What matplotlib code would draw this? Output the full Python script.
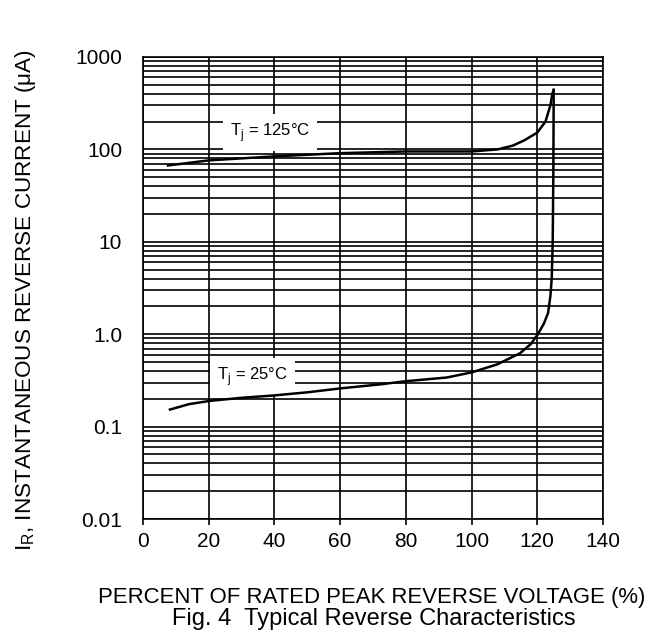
import matplotlib
matplotlib.use("Agg")
import matplotlib.pyplot as plt
from matplotlib.ticker import LogLocator, NullFormatter, FixedLocator

plt.rcParams["font.family"] = ["Liberation Sans", "DejaVu Sans"]

# curve: Tj = 125 C
x_125 = [7.6, 20, 40, 60, 80, 100, 108, 112.6, 116, 120, 122.5, 124, 124.6, 125]
y_125 = [67, 76, 84, 91, 95, 95, 100, 110, 125, 152, 200, 300, 400, 440]

# curve: Tj = 25 C
x_25 = [8.2, 14, 20.4, 30, 39.6, 50, 60, 72, 80, 92.5, 100, 107.7, 114.7,
        118, 120.2, 122, 123.3, 124, 124.4, 124.7, 124.9, 125]
y_25 = [0.153, 0.175, 0.19, 0.205, 0.217, 0.235, 0.259, 0.286, 0.31, 0.34,
        0.386, 0.47, 0.62, 0.78, 1.0, 1.3, 1.7, 2.6, 4.0, 10, 60, 440]

x_ticks = [0, 20, 40, 60, 80, 100, 120, 140]
y_ticks = [0.01, 0.1, 1, 10, 100, 1000]
y_labels = ["0.01", "0.1", "1.0", "10", "100", "1000"]

fig = plt.figure(figsize=(6.6, 6.38), dpi=100)
ax = fig.add_axes([0.2167, 0.1865, 0.6969, 0.7242])

ax.set_yscale("log")
ax.set_xlim(0, 140)
ax.set_ylim(0.01, 1000)

ax.xaxis.set_major_locator(FixedLocator(x_ticks))
ax.yaxis.set_major_locator(FixedLocator(y_ticks))
ax.set_yticklabels(y_labels)
ax.yaxis.set_minor_locator(LogLocator(base=10, subs=range(2, 10)))
ax.yaxis.set_minor_formatter(NullFormatter())

ax.grid(True, which="major", axis="x", color="black", lw=1.2)
ax.grid(True, which="both", axis="y", color="black", lw=1.2)
ax.set_axisbelow(True)

ax.tick_params(axis="x", direction="out", length=4, width=1.2, labelsize=15, pad=5)
ax.tick_params(axis="y", which="both", length=0, labelsize=15, pad=15)
for s in ax.spines.values():
    s.set_linewidth(1.2)

ax.plot(x_125, y_125, color="black", lw=1.8, zorder=3)
ax.plot(x_25, y_25, color="black", lw=1.8, zorder=3)

# white boxes hide the grid but sit under the curves
box = dict(facecolor="white", edgecolor="none", pad=5)
ax.text(38.6, 152, r"T$_\mathregular{j}$ = 125°C", fontsize=12, ha="center",
        va="center", bbox=box, zorder=2.5)
ax.text(33.3, 0.345, r"T$_\mathregular{j}$ = 25°C", fontsize=12, ha="center",
        va="center", bbox=box, zorder=2.5)

ax.set_ylabel(r"I$_\mathregular{R}$, INSTANTANEOUS REVERSE CURRENT (μA)", fontsize=16.2)
ax.yaxis.set_label_coords(-0.228, 0.474)
fig.text(0.563, 0.064, "PERCENT OF RATED PEAK REVERSE VOLTAGE (%)", fontsize=15.9,
         ha="center", va="center")
fig.text(0.567, 0.0298, "Fig. 4  Typical Reverse Characteristics", fontsize=17,
         ha="center", va="center")

fig.savefig("out.png", dpi=100)
